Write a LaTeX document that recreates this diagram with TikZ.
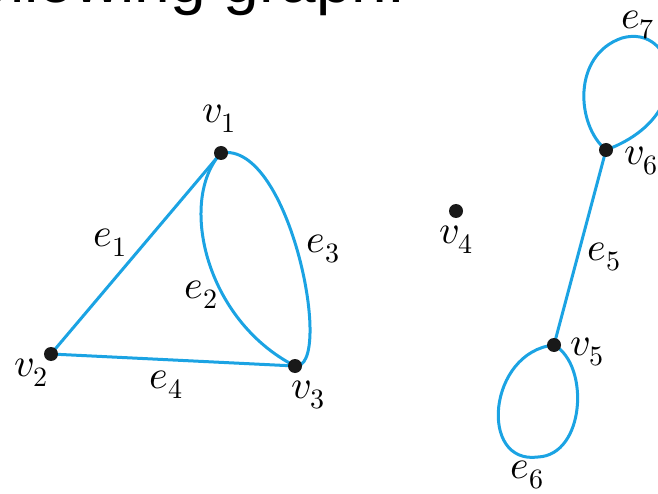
\documentclass[tikz,border=0pt]{standalone}
\usepackage{fontspec}
\usepackage{unicode-math}
\newfontfamily\headfont{Liberation Sans}
\usetikzlibrary{backgrounds}
\definecolor{edgeblue}{RGB}{27,163,227}
\definecolor{dotcol}{RGB}{25,25,25}
\begin{document}
\begin{tikzpicture}[x=1pt,y=-1pt,
  vtx/.style={circle,fill=dotcol,inner sep=0pt,minimum size=14pt},
  edge/.style={draw=edgeblue,line width=3pt},
  lbl/.style={font=\fontsize{40}{44}\selectfont,inner sep=0pt}]
\useasboundingbox (0,0) rectangle (658,494);
\node[anchor=base west,font=\headfont\fontsize{64}{70}\selectfont,inner sep=0pt] (head) at (-43,2.5) {following graph:};
% vertices
\node[vtx] (v1) at (221,153) {};
\node[vtx] (v2) at (51,354) {};
\node[vtx] (v3) at (295,366) {};
\node[vtx] (v4) at (456,211) {};
\node[vtx] (v5) at (554,345) {};
\node[vtx] (v6) at (606,150) {};
% edges
\begin{scope}[on background layer]
\draw[edge] (v1.center) -- (v2.center);
\draw[edge] (v2.center) -- (v3.center);
\draw[edge] (v1.center) .. controls (178,200) and (205,320) .. (v3.center);
\draw[edge] (v1.center) .. controls (290,140) and (335,370) .. (v3.center);
\draw[edge] (v5.center) -- (v6.center);
\draw[edge] (v5.center) .. controls (590,365) and (585,455) .. (538,457)
                        .. controls (478,465) and (488,352) .. (v5.center);
\draw[edge] (v6.center) .. controls (576,125) and (572,55) .. (622,38)
                        .. controls (675,23) and (700,115) .. (v6.center);
\end{scope}
% vertex labels
\node[lbl] (lv1) at (219,119) {$v_1$};
\node[lbl] (lv2) at (31,373) {$v_2$};
\node[lbl] (lv3) at (308,395) {$v_3$};
\node[lbl] (lv4) at (456,240) {$v_4$};
\node[lbl] (lv5) at (587,352) {$v_5$};
\node[lbl] (lv6) at (641,161) {$v_6$};
% edge labels
\node[lbl] (le1) at (110,243) {$e_1$};
\node[lbl] (le2) at (201,295) {$e_2$};
\node[lbl] (le3) at (323,249) {$e_3$};
\node[lbl] (le4) at (166,385) {$e_4$};
\node[lbl] (le5) at (604,257) {$e_5$};
\node[lbl] (le6) at (527,475) {$e_6$};
\node[lbl] (le7) at (638,25) {$e_7$};
\end{tikzpicture}
\end{document}
